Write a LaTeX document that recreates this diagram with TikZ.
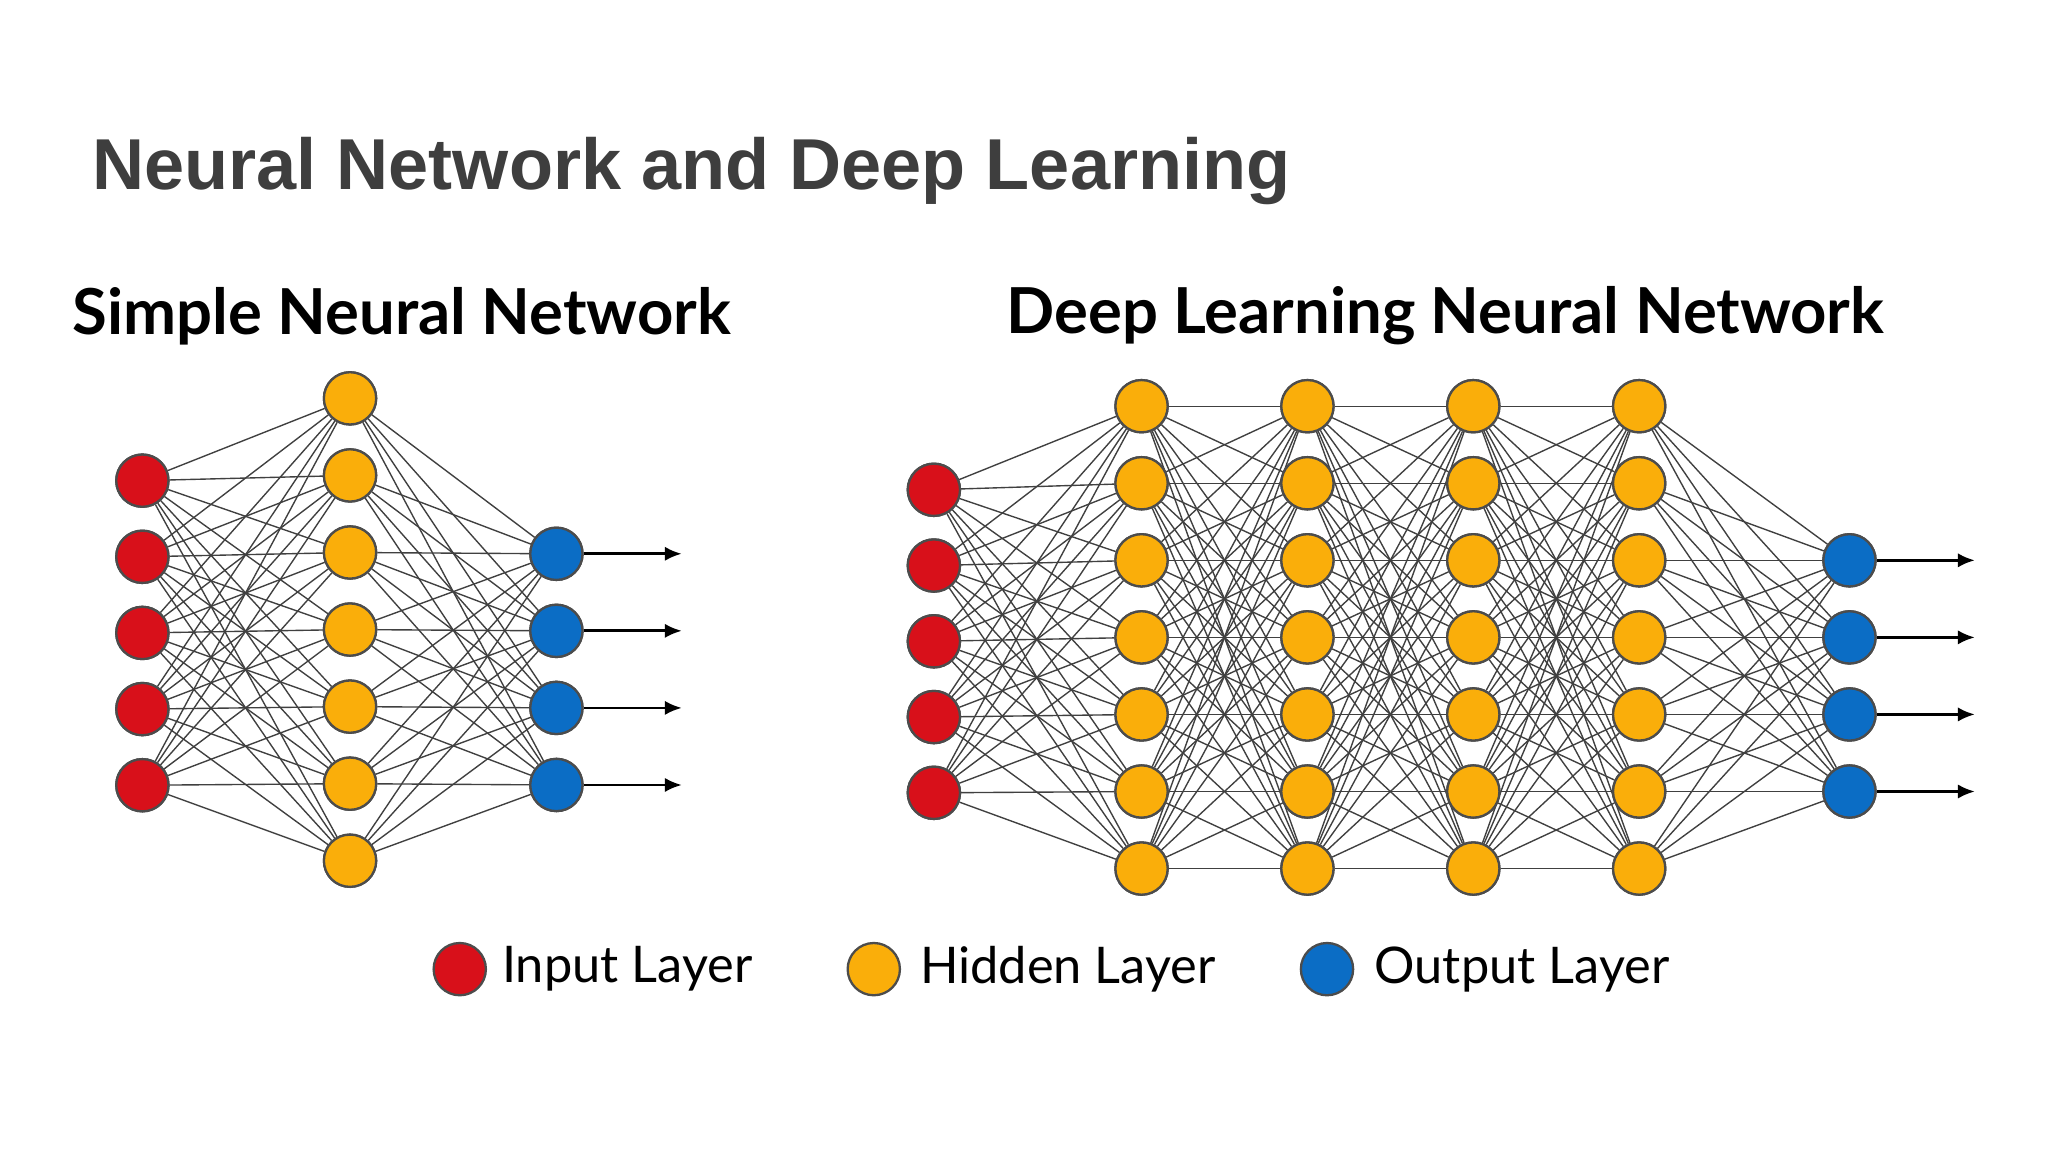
\documentclass[tikz,border=0pt]{standalone}
\usepackage{fontspec}
\setmainfont{Liberation Sans}
\newfontfamily\lato{Lato}
\usetikzlibrary{arrows.meta}
\definecolor{inred}{HTML}{D8101A}
\definecolor{hidor}{HTML}{FAAE0A}
\definecolor{outbl}{HTML}{0B6DC5}
\definecolor{titgray}{HTML}{3E3E3E}
\tikzset{
  neuron/.style={circle,draw=black!70,line width=0.5pt,minimum size=0.4cm,inner sep=0pt},
  inp/.style={neuron,fill=inred},
  hid/.style={neuron,fill=hidor},
  outp/.style={neuron,fill=outbl},
  link/.style={black!75,line width=0.3pt},
  outarrow/.style={black,line width=0.6pt,-{Latex[length=1.3mm,width=1.1mm]}},
  sub/.style={font=\lato\bfseries\fontsize{13.8}{16}\selectfont,anchor=west,inner sep=0pt},
  leg/.style={font=\lato\fontsize{11}{13}\selectfont,anchor=west}
}
\begin{document}
\begin{tikzpicture}[x=0.01cm,y=-0.01cm]
\useasboundingbox[fill=white] (0,0) rectangle (1568,882);
\node[anchor=base west,inner sep=0pt,text=titgray,font=\bfseries\fontsize{15.7}{18}\selectfont] (title) at (70,145) {Neural Network and Deep Learning};
\node[sub] (s1) at (55,242) {Simple Neural Network};
\node[sub] (s2) at (770,242) {Deep Learning Neural Network};
% simple network
\foreach \i in {0,...,4} \node[inp] (a\i) at (109,368+58.3*\i) {};
\foreach \i in {0,...,6} \node[hid] (b\i) at (268,305+59*\i) {};
\foreach \i in {0,...,3} \node[outp] (c\i) at (426,424+59*\i) {};
\foreach \i in {0,...,4} \foreach \j in {0,...,6} \draw[link] (a\i) -- (b\j);
\foreach \i in {0,...,6} \foreach \j in {0,...,3} \draw[link] (b\i) -- (c\j);
\foreach \i in {0,...,3} {
  \coordinate (ce\i) at (522,424+59*\i);
  \draw[outarrow] (c\i) -- (ce\i);
}
% deep network
\foreach \i in {0,...,4} \node[inp] (d\i) at (715,375+58*\i) {};
\foreach \l/\x in {1/874,2/1001,3/1128,4/1255}
  \foreach \i in {0,...,6} \node[hid] (h\l-\i) at (\x,311+59*\i) {};
\foreach \i in {0,...,3} \node[outp] (o\i) at (1416,429+59*\i) {};
\foreach \i in {0,...,4} \foreach \j in {0,...,6} \draw[link] (d\i) -- (h1-\j);
\foreach \l/\m in {1/2,2/3,3/4}
  \foreach \i in {0,...,6} \foreach \j in {0,...,6} \draw[link] (h\l-\i) -- (h\m-\j);
\foreach \i in {0,...,6} \foreach \j in {0,...,3} \draw[link] (h4-\i) -- (o\j);
\foreach \i in {0,...,3} {
  \coordinate (oe\i) at (1512,429+59*\i);
  \draw[outarrow] (o\i) -- (oe\i);
}
% redraw nodes on top of links
\foreach \i in {0,...,4} \node[inp] at (a\i) {};
\foreach \i in {0,...,6} \node[hid] at (b\i) {};
\foreach \i in {0,...,3} \node[outp] at (c\i) {};
\foreach \i in {0,...,4} \node[inp] at (d\i) {};
\foreach \l in {1,...,4} \foreach \i in {0,...,6} \node[hid] at (h\l-\i) {};
\foreach \i in {0,...,3} \node[outp] at (o\i) {};
% legend
\node[inp] (l1) at (352,742) {};
\node[leg] (t1) at (372,742) {Input Layer};
\node[hid] (l2) at (669,742) {};
\node[leg] (t2) at (692,742) {Hidden Layer};
\node[outp] (l3) at (1016,742) {};
\node[leg] (t3) at (1040,742) {Output Layer};
\end{tikzpicture}
\end{document}
